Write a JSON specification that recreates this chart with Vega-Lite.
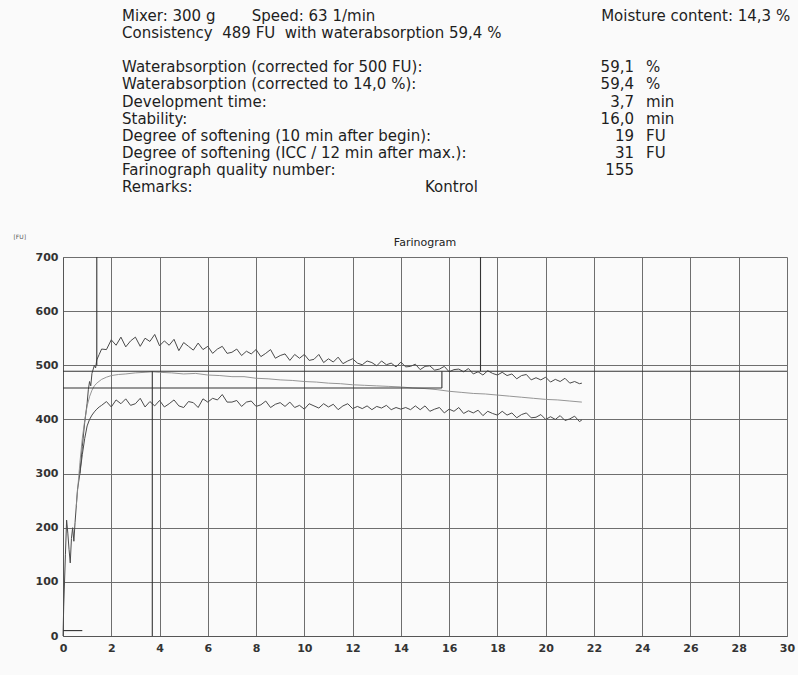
{
  "$schema": "https://vega.github.io/schema/vega-lite/v6.json",
  "width": 724,
  "height": 379,
  "autosize": "none",
  "padding": {"left": 63, "top": 257, "right": 11, "bottom": 39},
  "background": "#fafafa",
  "config": {"view": {"stroke": null}, "font": "DejaVu Sans"},
  "datasets": {
    "upper": [
      {"t":0,"fu":0},{"t":0.03,"fu":55},{"t":0.1,"fu":150},{"t":0.15,"fu":214},{"t":0.2,"fu":190},{"t":0.25,"fu":160},{"t":0.3,"fu":135},{"t":0.35,"fu":180},{"t":0.4,"fu":200},{"t":0.45,"fu":175},{"t":0.5,"fu":210},{"t":0.6,"fu":270},{"t":0.7,"fu":300},{"t":0.8,"fu":350},{"t":0.9,"fu":395},{"t":1.0,"fu":430},{"t":1.05,"fu":455},{"t":1.1,"fu":470},{"t":1.15,"fu":462},{"t":1.2,"fu":485},{"t":1.3,"fu":500},{"t":1.35,"fu":495},{"t":1.4,"fu":510},{"t":1.5,"fu":520},
      {"t":1.6,"fu":530},{"t":1.8,"fu":529},{"t":2.0,"fu":547},{"t":2.2,"fu":537},{"t":2.4,"fu":552},{"t":2.6,"fu":534},{"t":2.8,"fu":545},{"t":3.0,"fu":552},{"t":3.2,"fu":535},{"t":3.4,"fu":550},{"t":3.6,"fu":544},{"t":3.8,"fu":557},{"t":4.0,"fu":536},{"t":4.2,"fu":545},{"t":4.4,"fu":537},{"t":4.6,"fu":548},{"t":4.8,"fu":527},{"t":5.0,"fu":542},{"t":5.2,"fu":535},{"t":5.4,"fu":528},{"t":5.6,"fu":541},{"t":5.8,"fu":529},{"t":6.0,"fu":535},{"t":6.2,"fu":522},{"t":6.4,"fu":530},{"t":6.6,"fu":535},{"t":6.8,"fu":522},{"t":7.0,"fu":524},{"t":7.2,"fu":530},{"t":7.4,"fu":518},{"t":7.6,"fu":526},{"t":7.8,"fu":521},{"t":8.0,"fu":529},{"t":8.2,"fu":516},{"t":8.4,"fu":522},{"t":8.6,"fu":529},{"t":8.8,"fu":513},{"t":9.0,"fu":518},{"t":9.2,"fu":521},{"t":9.4,"fu":509},{"t":9.6,"fu":520},{"t":9.8,"fu":513},{"t":10.0,"fu":520},{"t":10.2,"fu":509},{"t":10.4,"fu":511},{"t":10.6,"fu":520},{"t":10.8,"fu":505},{"t":11.0,"fu":512},{"t":11.2,"fu":506},{"t":11.4,"fu":515},{"t":11.6,"fu":503},{"t":11.8,"fu":508},{"t":12.0,"fu":512},{"t":12.2,"fu":504},{"t":12.4,"fu":501},{"t":12.6,"fu":508},{"t":12.8,"fu":505},{"t":13.0,"fu":499},{"t":13.2,"fu":508},{"t":13.4,"fu":501},{"t":13.6,"fu":504},{"t":13.8,"fu":497},{"t":14.0,"fu":506},{"t":14.2,"fu":497},{"t":14.4,"fu":498},{"t":14.6,"fu":502},{"t":14.8,"fu":492},{"t":15.0,"fu":498},{"t":15.2,"fu":499},{"t":15.4,"fu":491},{"t":15.6,"fu":493},{"t":15.8,"fu":498},{"t":16.0,"fu":488},{"t":16.2,"fu":492},{"t":16.4,"fu":493},{"t":16.6,"fu":488},{"t":16.8,"fu":494},{"t":17.0,"fu":484},{"t":17.2,"fu":488},{"t":17.4,"fu":482},{"t":17.6,"fu":490},{"t":17.8,"fu":485},{"t":18.0,"fu":482},{"t":18.2,"fu":487},{"t":18.4,"fu":481},{"t":18.6,"fu":484},{"t":18.8,"fu":475},{"t":19.0,"fu":481},{"t":19.2,"fu":483},{"t":19.4,"fu":473},{"t":19.6,"fu":477},{"t":19.8,"fu":473},{"t":20.0,"fu":478},{"t":20.2,"fu":469},{"t":20.4,"fu":474},{"t":20.6,"fu":470},{"t":20.8,"fu":476},{"t":21.0,"fu":467},{"t":21.2,"fu":470},{"t":21.4,"fu":466},{"t":21.5,"fu":467}
    ],
    "middle": [
      {"t":0.55,"fu":240},{"t":0.7,"fu":320},{"t":0.8,"fu":365},{"t":0.9,"fu":398},{"t":1.0,"fu":425},{"t":1.1,"fu":442},{"t":1.2,"fu":454},{"t":1.3,"fu":462},{"t":1.4,"fu":467},{"t":1.6,"fu":474},{"t":1.8,"fu":478},{"t":2.0,"fu":481},{"t":2.3,"fu":483},{"t":2.6,"fu":484},{"t":3.0,"fu":486},{"t":3.4,"fu":487},{"t":3.7,"fu":488},{"t":4.0,"fu":487},{"t":4.5,"fu":486},{"t":5.0,"fu":484},{"t":5.5,"fu":485},{"t":6.0,"fu":482},{"t":6.5,"fu":481},{"t":7.0,"fu":479},{"t":7.5,"fu":479},{"t":8.0,"fu":476},{"t":8.5,"fu":475},{"t":9.0,"fu":473},{"t":9.5,"fu":472},{"t":10.0,"fu":470},{"t":10.5,"fu":469},{"t":11.0,"fu":467},{"t":11.5,"fu":466},{"t":12.0,"fu":464},{"t":12.5,"fu":463},{"t":13.0,"fu":462},{"t":13.5,"fu":461},{"t":14.0,"fu":460},{"t":14.5,"fu":458},{"t":15.0,"fu":457},{"t":15.5,"fu":455},{"t":16.0,"fu":452},{"t":16.5,"fu":450},{"t":17.0,"fu":448},{"t":17.5,"fu":447},{"t":18.0,"fu":445},{"t":18.5,"fu":443},{"t":19.0,"fu":441},{"t":19.5,"fu":439},{"t":20.0,"fu":437},{"t":20.5,"fu":436},{"t":21.0,"fu":434},{"t":21.5,"fu":432}
    ],
    "lower": [
      {"t":0.7,"fu":300},{"t":0.8,"fu":335},{"t":0.9,"fu":365},{"t":1.0,"fu":388},{"t":1.1,"fu":400},{"t":1.2,"fu":408},{"t":1.3,"fu":414},{"t":1.4,"fu":419},{"t":1.5,"fu":423},
      {"t":1.6,"fu":426},{"t":1.8,"fu":433},{"t":2.0,"fu":423},{"t":2.2,"fu":436},{"t":2.4,"fu":429},{"t":2.6,"fu":438},{"t":2.8,"fu":426},{"t":3.0,"fu":429},{"t":3.2,"fu":439},{"t":3.4,"fu":423},{"t":3.6,"fu":433},{"t":3.8,"fu":425},{"t":4.0,"fu":435},{"t":4.2,"fu":423},{"t":4.4,"fu":429},{"t":4.6,"fu":436},{"t":4.8,"fu":425},{"t":5.0,"fu":422},{"t":5.2,"fu":433},{"t":5.4,"fu":431},{"t":5.6,"fu":422},{"t":5.8,"fu":438},{"t":6.0,"fu":432},{"t":6.2,"fu":439},{"t":6.4,"fu":436},{"t":6.6,"fu":446},{"t":6.8,"fu":432},{"t":7.0,"fu":432},{"t":7.2,"fu":435},{"t":7.4,"fu":424},{"t":7.6,"fu":432},{"t":7.8,"fu":434},{"t":8.0,"fu":424},{"t":8.2,"fu":427},{"t":8.4,"fu":434},{"t":8.6,"fu":422},{"t":8.8,"fu":428},{"t":9.0,"fu":431},{"t":9.2,"fu":424},{"t":9.4,"fu":432},{"t":9.6,"fu":422},{"t":9.8,"fu":426},{"t":10.0,"fu":419},{"t":10.2,"fu":429},{"t":10.4,"fu":425},{"t":10.6,"fu":421},{"t":10.8,"fu":429},{"t":11.0,"fu":423},{"t":11.2,"fu":428},{"t":11.4,"fu":418},{"t":11.6,"fu":425},{"t":11.8,"fu":429},{"t":12.0,"fu":420},{"t":12.2,"fu":424},{"t":12.4,"fu":420},{"t":12.6,"fu":425},{"t":12.8,"fu":418},{"t":13.0,"fu":424},{"t":13.2,"fu":421},{"t":13.4,"fu":426},{"t":13.6,"fu":418},{"t":13.8,"fu":422},{"t":14.0,"fu":419},{"t":14.2,"fu":422},{"t":14.4,"fu":418},{"t":14.6,"fu":425},{"t":14.8,"fu":418},{"t":15.0,"fu":425},{"t":15.2,"fu":415},{"t":15.4,"fu":419},{"t":15.6,"fu":422},{"t":15.8,"fu":412},{"t":16.0,"fu":419},{"t":16.2,"fu":415},{"t":16.4,"fu":422},{"t":16.6,"fu":411},{"t":16.8,"fu":416},{"t":17.0,"fu":412},{"t":17.2,"fu":417},{"t":17.4,"fu":407},{"t":17.6,"fu":415},{"t":17.8,"fu":411},{"t":18.0,"fu":408},{"t":18.2,"fu":415},{"t":18.4,"fu":408},{"t":18.6,"fu":412},{"t":18.8,"fu":403},{"t":19.0,"fu":409},{"t":19.2,"fu":412},{"t":19.4,"fu":403},{"t":19.6,"fu":404},{"t":19.8,"fu":409},{"t":20.0,"fu":400},{"t":20.2,"fu":405},{"t":20.4,"fu":400},{"t":20.6,"fu":407},{"t":20.8,"fu":398},{"t":21.0,"fu":401},{"t":21.2,"fu":406},{"t":21.4,"fu":396},{"t":21.5,"fu":399}
    ],
    "marks": [
      {"what":"arrival","t":1.4,"t2":1.4,"fu":500,"fu2":700},
      {"what":"development","t":3.7,"t2":3.7,"fu":0,"fu2":489},
      {"what":"departure","t":17.3,"t2":17.3,"fu":489,"fu2":700},
      {"what":"consistency","t":0,"t2":30,"fu":489,"fu2":489},
      {"what":"icc level","t":0,"t2":15.7,"fu":458,"fu2":458},
      {"what":"icc drop","t":15.7,"t2":15.7,"fu":458,"fu2":489},
      {"what":"zero marker","t":0,"t2":0.8,"fu":10,"fu2":10}
    ],
    "header": [
      {"line":1,"col":"label","text":"Mixer: 300 g"},
      {"line":1,"col":"speed","text":"Speed: 63 1/min"},
      {"line":1,"col":"moisture","text":"Moisture content: 14,3 %"},
      {"line":2,"col":"label","text":"Consistency\u00a0 489 FU\u00a0 with waterabsorption 59,4 %"},
      {"line":4,"col":"label","text":"Waterabsorption (corrected for 500 FU):"},
      {"line":4,"col":"value","text":"59,1"},
      {"line":4,"col":"unit","text":"%"},
      {"line":5,"col":"label","text":"Waterabsorption (corrected to 14,0 %):"},
      {"line":5,"col":"value","text":"59,4"},
      {"line":5,"col":"unit","text":"%"},
      {"line":6,"col":"label","text":"Development time:"},
      {"line":6,"col":"value","text":"3,7"},
      {"line":6,"col":"unit","text":"min"},
      {"line":7,"col":"label","text":"Stability:"},
      {"line":7,"col":"value","text":"16,0"},
      {"line":7,"col":"unit","text":"min"},
      {"line":8,"col":"label","text":"Degree of softening (10 min after begin):"},
      {"line":8,"col":"value","text":"19"},
      {"line":8,"col":"unit","text":"FU"},
      {"line":9,"col":"label","text":"Degree of softening (ICC / 12 min after max.):"},
      {"line":9,"col":"value","text":"31"},
      {"line":9,"col":"unit","text":"FU"},
      {"line":10,"col":"label","text":"Farinograph quality number:"},
      {"line":10,"col":"value","text":"155"},
      {"line":11,"col":"label","text":"Remarks:"},
      {"line":11,"col":"remark","text":"Kontrol"}
    ]
  },
  "layer": [
    {
      "layer": [
        {
          "data": {"name": "upper"},
          "mark": {"type": "line", "color": "#4a4a4a", "strokeWidth": 1},
          "encoding": {
            "x": {"field": "t", "type": "quantitative", "scale": {"domain": [0, 30], "nice": false},
              "axis": {"values": [0,2,4,6,8,10,12,14,16,18,20,22,24,26,28,30], "title": null, "grid": true, "gridColor": "#6e6e6e", "gridWidth": 1, "ticks": false, "labelFont": "DejaVu Sans", "labelFontSize": 11, "labelFontWeight": "bold", "labelColor": "#333", "labelPadding": 6, "domainColor": "#555", "labelFlush": false}},
            "y": {"field": "fu", "type": "quantitative", "scale": {"domain": [0, 700], "nice": false},
              "axis": {"values": [0,100,200,300,400,500,600,700], "title": "[FU]", "titleAngle": 0, "titleFontSize": 6, "titleFontWeight": "normal", "titleColor": "#555", "titleX": -50, "titleY": -21, "titleAlign": "left", "titleBaseline": "middle", "grid": true, "gridColor": "#6e6e6e", "gridWidth": 1, "ticks": false, "labelFont": "DejaVu Sans", "labelFontSize": 11, "labelFontWeight": "bold", "labelColor": "#333", "labelPadding": 5, "domainColor": "#555"}}
          }
        },
        {
          "data": {"name": "middle"},
          "mark": {"type": "line", "color": "#8a8a8a", "strokeWidth": 0.9},
          "encoding": {
            "x": {"field": "t", "type": "quantitative"},
            "y": {"field": "fu", "type": "quantitative"}
          }
        },
        {
          "data": {"name": "lower"},
          "mark": {"type": "line", "color": "#4a4a4a", "strokeWidth": 1},
          "encoding": {
            "x": {"field": "t", "type": "quantitative"},
            "y": {"field": "fu", "type": "quantitative"}
          }
        },
        {
          "data": {"name": "marks"},
          "mark": {"type": "rule", "color": "#333", "strokeWidth": 1.1},
          "encoding": {
            "x": {"field": "t", "type": "quantitative"},
            "x2": {"field": "t2"},
            "y": {"field": "fu", "type": "quantitative"},
            "y2": {"field": "fu2"}
          }
        },
        {
          "data": {"values": [{"name": "Farinogram"}]},
          "mark": {"type": "text", "fontSize": 11, "color": "#222", "align": "center", "baseline": "middle"},
          "encoding": {
            "x": {"datum": 15, "type": "quantitative"},
            "y": {"datum": 725, "type": "quantitative"},
            "text": {"field": "name"}
          }
        }
      ]
    },
    {
      "data": {"name": "header"},
      "encoding": {
        "y": {"field": "line", "type": "quantitative", "scale": {"domain": [1, 11], "range": [-241, -70]}, "axis": null},
        "text": {"field": "text"}
      },
      "layer": [
        {
          "transform": [{"filter": "datum.col === 'label'"}],
          "mark": {"type": "text", "fontSize": 15, "color": "#1e1e1e", "align": "left", "baseline": "middle"},
          "encoding": {"x": {"datum": 2.445, "type": "quantitative"}}
        },
        {
          "transform": [{"filter": "datum.col === 'speed'"}],
          "mark": {"type": "text", "fontSize": 15, "color": "#1e1e1e", "align": "left", "baseline": "middle"},
          "encoding": {"x": {"datum": 7.82, "type": "quantitative"}}
        },
        {
          "transform": [{"filter": "datum.col === 'moisture'"}],
          "mark": {"type": "text", "fontSize": 15, "color": "#1e1e1e", "align": "left", "baseline": "middle"},
          "encoding": {"x": {"datum": 22.3, "type": "quantitative"}}
        },
        {
          "transform": [{"filter": "datum.col === 'value'"}],
          "mark": {"type": "text", "fontSize": 15, "color": "#1e1e1e", "align": "right", "baseline": "middle"},
          "encoding": {"x": {"datum": 23.66, "type": "quantitative"}}
        },
        {
          "transform": [{"filter": "datum.col === 'unit'"}],
          "mark": {"type": "text", "fontSize": 15, "color": "#1e1e1e", "align": "left", "baseline": "middle"},
          "encoding": {"x": {"datum": 24.16, "type": "quantitative"}}
        },
        {
          "transform": [{"filter": "datum.col === 'remark'"}],
          "mark": {"type": "text", "fontSize": 15, "color": "#1e1e1e", "align": "left", "baseline": "middle"},
          "encoding": {"x": {"datum": 15.0, "type": "quantitative"}}
        }
      ]
    }
  ],
  "resolve": {"scale": {"y": "independent"}}
}
